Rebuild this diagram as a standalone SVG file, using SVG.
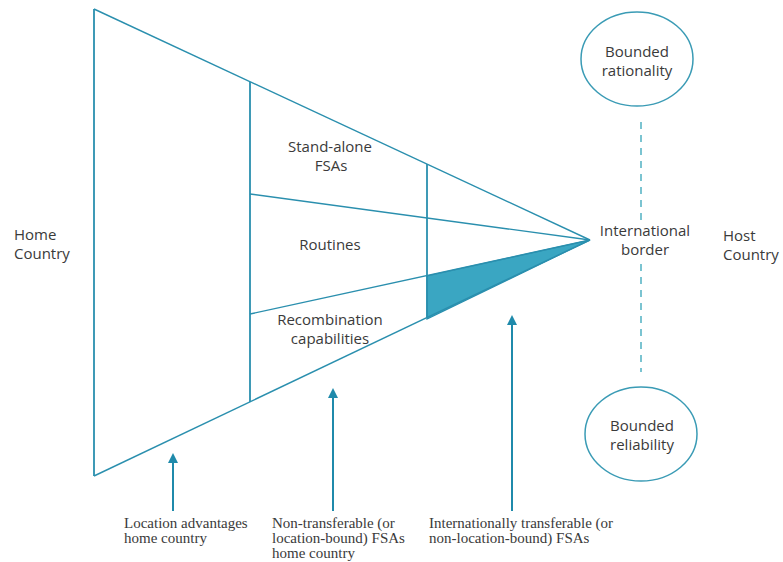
<svg xmlns="http://www.w3.org/2000/svg" width="783" height="562" viewBox="0 0 783 562">
<defs>
<style>
.ln{stroke:#2a8fae;stroke-width:1.4;fill:none}
.vl{stroke:#2a8fae;stroke-width:1.8;fill:none}
.lbl{font-family:"Open Sans","Noto Sans",sans-serif;font-size:15px;fill:#3a3a3a;text-anchor:middle}
.lbl-l{font-family:"Open Sans","Noto Sans",sans-serif;font-size:15px;fill:#3a3a3a}
.ser{font-family:"Liberation Serif",serif;font-size:15px;fill:#3a3a3a}
.arr{stroke:#1f8aab;stroke-width:2;fill:none;marker-end:url(#ah)}
.ell{fill:none;stroke:#3a9bb5;stroke-width:1.5}
.dash{stroke:#5bb6c6;stroke-width:1.6;stroke-dasharray:7,6;fill:none}
</style>
<marker id="ah" viewBox="0 0 10 10" refX="5" refY="5" markerWidth="5" markerHeight="5" orient="auto">
<path d="M0,0 L10,5 L0,10 z" fill="#1f8aab"/>
</marker>
</defs>
<rect width="783" height="562" fill="#fff"/>
<g id="funnel">
<polygon points="427,276 427,319 590,240" fill="#3aa6c2" stroke="#2a8fae" stroke-width="1.2"/>
<line class="ln" x1="94" y1="9" x2="590" y2="240"/>
<line class="ln" x1="94" y1="476" x2="590" y2="240"/>
<line class="vl" x1="94" y1="9" x2="94" y2="476"/>
<line class="vl" x1="250" y1="82" x2="250" y2="402"/>
<line class="vl" x1="427" y1="164" x2="427" y2="318"/>
<line class="ln" x1="250" y1="194" x2="590" y2="240"/>
<line class="ln" x1="250" y1="314" x2="590" y2="240"/>
</g>
<g id="home-country"><text class="lbl-l" x="14" y="240">Home</text><text class="lbl-l" x="14" y="259">Country</text></g>
<g id="host-country"><text class="lbl-l" x="723" y="241">Host</text><text class="lbl-l" x="723" y="260">Country</text></g>
<g id="stand-alone"><text class="lbl" x="330" y="152">Stand-alone</text><text class="lbl" x="331" y="171">FSAs</text></g>
<g id="routines"><text class="lbl" x="330" y="250">Routines</text></g>
<g id="recombination"><text class="lbl" x="330" y="325">Recombination</text><text class="lbl" x="330" y="344">capabilities</text></g>
<g id="border"><text class="lbl" x="645" y="236">International</text><text class="lbl" x="645" y="255">border</text></g>
<g id="bounded-rationality"><ellipse class="ell" cx="637" cy="59" rx="56" ry="47"/><text class="lbl" x="637" y="57">Bounded</text><text class="lbl" x="637" y="76">rationality</text></g>
<g id="bounded-reliability"><ellipse class="ell" cx="641" cy="434" rx="56" ry="47"/><text class="lbl" x="642" y="431">Bounded</text><text class="lbl" x="642" y="450">reliability</text></g>
<g id="connectors">
<line class="dash" x1="641" y1="122" x2="641" y2="226"/>
<line class="dash" x1="641" y1="264" x2="641" y2="372"/>
<line class="arr" x1="173" y1="511" x2="173" y2="458"/>
<line class="arr" x1="333" y1="511" x2="333" y2="393"/>
<line class="arr" x1="512" y1="511" x2="512" y2="320"/>
</g>
<g id="label-location"><text class="ser" x="124" y="528">Location advantages</text><text class="ser" x="124" y="543">home country</text></g>
<g id="label-nontransferable"><text class="ser" x="272" y="528">Non-transferable (or</text><text class="ser" x="272" y="543">location-bound) FSAs</text><text class="ser" x="272" y="558">home country</text></g>
<g id="label-transferable"><text class="ser" x="429" y="528">Internationally transferable (or</text><text class="ser" x="429" y="543">non-location-bound) FSAs</text></g>
</svg>
